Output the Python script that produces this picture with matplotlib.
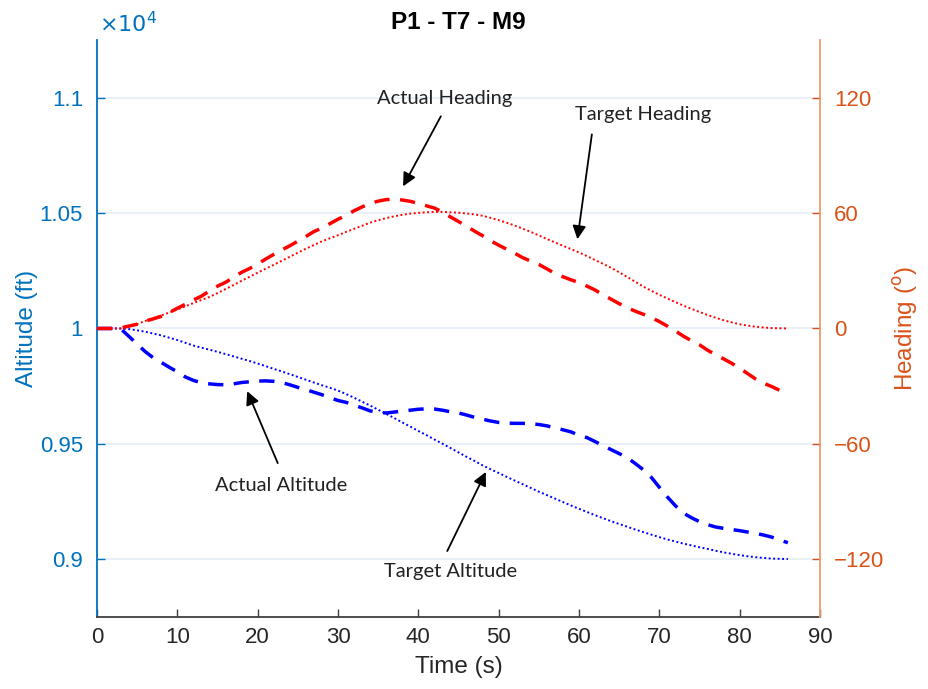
import matplotlib
matplotlib.use("Agg")
import matplotlib.pyplot as plt
from matplotlib.ticker import FuncFormatter

# time base shared by all four series (s)
time_s = list(range(0, 87))

# altitude, in units of 1e4 ft
target_alt = [1.0, 1.0, 1.0, 1.0, 0.9997, 0.9992, 0.9986, 0.9978, 0.9970, 0.9960,
              0.9950, 0.9938, 0.9926, 0.9917, 0.9908, 0.9899, 0.9889, 0.9879, 0.9869, 0.9859,
              0.9848, 0.9837, 0.9825, 0.9814, 0.9802, 0.9790, 0.9778, 0.9766, 0.9754, 0.9743,
              0.9731, 0.9716, 0.9700, 0.9683, 0.9666, 0.9648, 0.9630, 0.9612, 0.9593, 0.9575,
              0.9556, 0.9538, 0.9519, 0.9501, 0.9482, 0.9463, 0.9444, 0.9426, 0.9407, 0.9390,
              0.9374, 0.9357, 0.9341, 0.9325, 0.9309, 0.9293, 0.9278, 0.9263, 0.9248, 0.9233,
              0.9219, 0.9205, 0.9191, 0.9178, 0.9165, 0.9153, 0.9141, 0.9129, 0.9118, 0.9107,
              0.9096, 0.9086, 0.9077, 0.9068, 0.9060, 0.9052, 0.9045, 0.9037, 0.9030, 0.9024,
              0.9018, 0.9013, 0.9009, 0.9006, 0.9003, 0.9002, 0.9001]
actual_alt = [1.0, 1.0, 1.0, 0.9997, 0.9965, 0.9932, 0.9900, 0.9873, 0.9853, 0.9832,
              0.9812, 0.9790, 0.9775, 0.9765, 0.9760, 0.9757, 0.9756, 0.9760, 0.9766, 0.9769,
              0.9772, 0.9773, 0.9771, 0.9766, 0.9756, 0.9745, 0.9735, 0.9724, 0.9713, 0.9700,
              0.9688, 0.9680, 0.9668, 0.9656, 0.9643, 0.9636, 0.9634, 0.9638, 0.9642, 0.9646,
              0.9650, 0.9652, 0.9651, 0.9646, 0.9639, 0.9634, 0.9625, 0.9615, 0.9607, 0.9599,
              0.9593, 0.9590, 0.9589, 0.9589, 0.9587, 0.9584, 0.9578, 0.9570, 0.9561, 0.9552,
              0.9537, 0.9527, 0.9510, 0.9492, 0.9475, 0.9458, 0.9440, 0.9415, 0.9388, 0.9355,
              0.9312, 0.9270, 0.9232, 0.9200, 0.9180, 0.9163, 0.9150, 0.9140, 0.9134, 0.9129,
              0.9124, 0.9118, 0.9112, 0.9105, 0.9096, 0.9083, 0.9072]

# heading, degrees
target_hdg = [0, 0, 0, 0, 1.0, 2.3, 3.9, 5.3, 6.8, 8.3,
              9.9, 11.5, 13.2, 14.8, 16.4, 18.4, 20.5, 22.6, 24.8, 26.9,
              29.0, 31.1, 33.1, 35.2, 37.3, 39.4, 41.5, 43.4, 45.3, 46.9,
              48.5, 50.2, 51.8, 53.4, 55.0, 56.3, 57.4, 58.3, 59.1, 59.7,
              60.1, 60.4, 60.6, 60.6, 60.4, 60.2, 59.8, 59.3, 58.6, 57.5,
              56.3, 55.0, 53.5, 51.9, 50.2, 48.4, 46.5, 44.8, 43.0, 41.3,
              39.5, 37.6, 35.6, 33.6, 31.5, 29.2, 26.8, 24.3, 21.8, 19.6,
              17.5, 15.6, 13.7, 11.9, 10.2, 8.6, 7.0, 5.6, 4.3, 3.2,
              2.2, 1.5, 0.9, 0.5, 0.2, 0.1, 0.0]
actual_hdg = [0, 0, 0, 0.3, 1.3, 2.2, 3.8, 5.0, 6.3, 8.3,
              10.5, 12.6, 14.8, 16.8, 19.5, 22.0, 24.0, 26.6, 29.2, 31.2,
              33.5, 36.1, 38.5, 40.8, 43.0, 45.4, 47.8, 50.4, 52.2, 54.5,
              56.8, 58.8, 61.2, 63.2, 65.0, 66.2, 67.0, 67.2, 66.8, 66.1,
              65.0, 63.8, 62.6, 60.6, 58.0, 55.6, 53.2, 50.6, 48.2, 45.6,
              43.3, 41.2, 39.1, 36.8, 35.0, 33.3, 31.0, 28.6, 26.9, 25.3,
              23.9, 22.0, 20.0, 17.5, 15.2, 12.9, 10.8, 9.0, 7.4, 5.7,
              3.6, 1.2, -1.3, -4.0, -6.4, -8.5, -11.3, -13.6, -15.8, -18.1,
              -20.6, -23.5, -26.3, -28.5, -30.2, -32.2, -34.0]

alt_ticks = [0.9, 0.95, 1.0, 1.05, 1.1]
hdg_ticks = [-120, -60, 0, 60, 120]
time_ticks = list(range(0, 100, 10))

LEFT_C = "#0072BD"
RIGHT_C = "#D95319"
SPINE_R = "#EE9A6E"
GRID_C = "#E6EEF7"
TICK_FONT = "Liberation Sans"
NOTE_FONT = "Lato"

fig = plt.figure(figsize=(9.29, 6.89), dpi=100)
ax = fig.add_axes([0.1044, 0.1045, 0.7783, 0.8375])
ax2 = ax.twinx()

alt_ft = lambda vals: [v * 1e4 for v in vals]
ax.plot(time_s, alt_ft(target_alt), color="#0000FF", lw=1.4, ls=(0, (1, 1.3)))
ax.plot(time_s, alt_ft(actual_alt), color="#0000FF", lw=2.5, ls=(0, (4.4, 3.0)))
ax2.plot(time_s, target_hdg, color="#FF0000", lw=1.4, ls=(0, (1, 1.3)))
ax2.plot(time_s, actual_hdg, color="#FF0000", lw=2.5, ls=(0, (4.4, 3.0)))

ax.set_xlim(0, 90)
ax.set_ylim(8750, 11250)
ax2.set_ylim(-150, 150)
ax.set_xticks(time_ticks)
ax.set_yticks(alt_ft(alt_ticks))
ax.yaxis.set_major_formatter(FuncFormatter(lambda v, _: f"{v / 1e4:g}"))
ax2.set_yticks(hdg_ticks)
ax2.yaxis.set_major_formatter(FuncFormatter(lambda v, _: f"{v:g}".replace("-", "\u2212")))

ax.grid(axis="y", color=GRID_C, lw=1.2)
ax.set_axisbelow(True)

for a in (ax, ax2):
    a.spines["top"].set_visible(False)
ax.spines["left"].set_color(LEFT_C)
ax.spines["left"].set_linewidth(1.3)
ax.spines["right"].set_visible(False)
ax2.spines["left"].set_visible(False)
ax2.spines["bottom"].set_visible(False)
ax2.spines["right"].set_color(SPINE_R)
ax2.spines["right"].set_linewidth(1.3)
ax.spines["bottom"].set_color("#404040")
ax.spines["bottom"].set_linewidth(1.3)

ax.tick_params(axis="x", direction="in", length=6, width=1, colors="#404040",
               labelcolor="#262626", labelsize=16, pad=7)
ax.tick_params(axis="y", direction="in", length=6, width=1, colors=LEFT_C,
               labelsize=16, pad=10)
ax2.tick_params(axis="y", direction="in", length=6, width=1, colors=RIGHT_C,
                labelsize=16, pad=10)
for lab in ax.get_xticklabels() + ax.get_yticklabels() + ax2.get_yticklabels():
    lab.set_family(TICK_FONT)

ax.set_xlabel("Time (s)", fontsize=17.5, family=TICK_FONT, color="#262626", labelpad=6)
ax.set_ylabel("Altitude (ft)", fontsize=17.5, family=TICK_FONT, color=LEFT_C, labelpad=1)
ax2.set_ylabel("Heading ($^{\\mathrm{o}}$)", fontsize=17.5, family=TICK_FONT,
               color=RIGHT_C, labelpad=5)
ax.set_title("P1 - T7 - M9", fontsize=17.5, fontweight="bold", family=TICK_FONT, pad=8)
ax.text(0.003, 1.004, "$\\times 10^4$", transform=ax.transAxes, fontsize=16,
        color=LEFT_C, ha="left", va="bottom", family=TICK_FONT)

# callouts (heading axis coords)
arrow = dict(arrowstyle="-|>", color="black", lw=1.3, mutation_scale=20,
             shrinkA=0, shrinkB=0)
notes = [
    ("Actual Heading", (43.3, 119.6), (42.8, 110.3), (38.1, 73.9)),
    ("Target Heading", (68.0, 111.3), (61.6, 100.9), (59.8, 46.4)),
    ("Actual Altitude", (22.9, -81.4), (22.5, -70.0), (18.7, -32.6)),
    ("Target Altitude", (44.0, -126.6), (43.6, -115.7), (48.4, -74.6)),
]
for label, txt_xy, start, tip in notes:
    ax2.text(*txt_xy, label, fontsize=14.5, family=NOTE_FONT, color="#222222",
             ha="center", va="center")
    ax2.annotate("", xy=tip, xytext=start, arrowprops=arrow)

fig.savefig("out.png", dpi=100)
